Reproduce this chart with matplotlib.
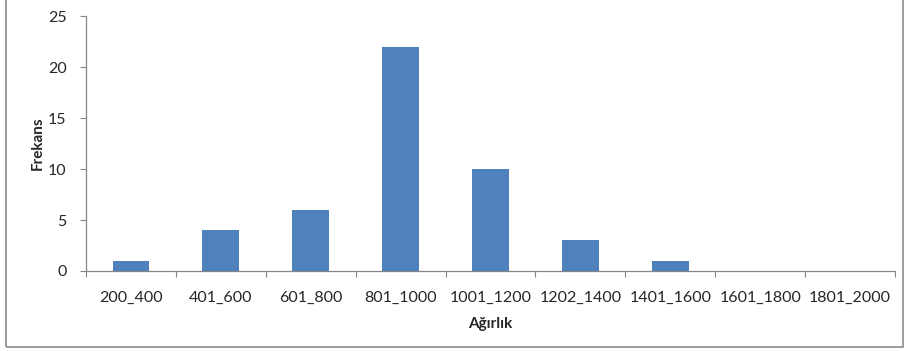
import matplotlib.pyplot as plt
from matplotlib.patches import Rectangle
import numpy as np

plt.rcParams['font.family'] = ['Lato', 'DejaVu Sans']

# Ağırlık sınıfları ve frekansları
siniflar = ['200_400', '401_600', '601_800', '801_1000', '1001_1200',
            '1202_1400', '1401_1600', '1601_1800', '1801_2000']
frekans = [1, 4, 6, 22, 10, 3, 1, 0, 0]

eksen_rengi = '#868686'
yazi_rengi = '#262626'

fig = plt.figure(figsize=(9.08, 3.51), dpi=100)
ax = fig.add_axes([0.0947, 0.228, 0.891, 0.726])

x = np.arange(len(siniflar))
ax.bar(x, frekans, width=0.41, color='#4F81BD', zorder=3)

ax.set_xlim(-0.5, len(siniflar) - 0.5)
ax.set_ylim(0, 25)
ax.set_yticks(range(0, 26, 5))

# kategori sınırlarında tik, etiketler ortada
ax.set_xticks(np.arange(len(siniflar) + 1) - 0.5)
ax.set_xticklabels([])
ax.set_xticks(x, minor=True)
ax.set_xticklabels(siniflar, minor=True)
ax.tick_params(axis='x', which='minor', length=0, pad=14, labelsize=11.5, labelcolor=yazi_rengi)
ax.tick_params(axis='x', which='major', length=4, color=eksen_rengi, direction='out')
ax.tick_params(axis='y', length=4, color=eksen_rengi, labelsize=11.5, labelcolor=yazi_rengi, pad=10)

for s in ['top', 'right']:
    ax.spines[s].set_visible(False)
for s in ['left', 'bottom']:
    ax.spines[s].set_color(eksen_rengi)
    ax.spines[s].set_linewidth(0.9)

ax.set_xlabel('Ağırlık', fontsize=11, fontweight='bold', color=yazi_rengi, labelpad=9)
ax.set_ylabel('Frekans', fontsize=11, fontweight='bold', color=yazi_rengi, labelpad=2)

# grafik alanı çerçevesi
fig.patches.append(Rectangle((0.007, 0.011), 0.988, 1.0, transform=fig.transFigure,
                             fill=False, edgecolor='#8c8c8c', linewidth=1.2))

fig.savefig('out.png', dpi=100)
